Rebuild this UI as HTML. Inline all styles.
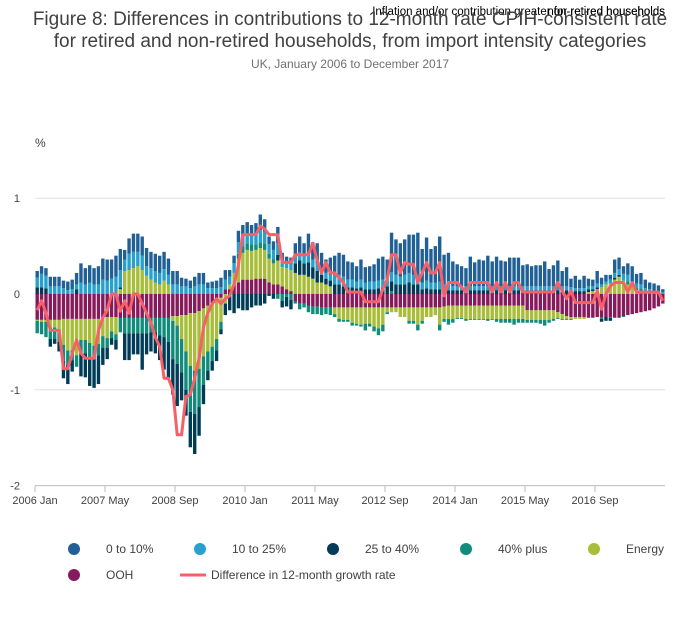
<!DOCTYPE html>
<html><head><meta charset="utf-8">
<style>
body{margin:0;background:#fff;width:700px;height:635px;overflow:hidden;font-family:"Liberation Sans",sans-serif}
svg text{font-family:"Liberation Sans",sans-serif}
</style></head>
<body>
<svg id="chart" width="700" height="635" xmlns="http://www.w3.org/2000/svg">
<text x="665" y="15" text-anchor="end" font-size="11.5" fill="#000">Inflation and/or contribution greater for retired households</text>
<text x="665" y="15" text-anchor="end" font-size="11.5" fill="#000">non-retired households</text>
<text x="350" y="25" text-anchor="middle" font-size="19" fill="#414042">Figure 8: Differences in contributions to 12-month rate CPIH-consistent rate</text>
<text x="350" y="47" text-anchor="middle" font-size="19" fill="#414042">for retired and non-retired households, from import intensity categories</text>
<text x="350" y="68" text-anchor="middle" font-size="12" fill="#707071">UK, January 2006 to December 2017</text>
<text x="35" y="147" font-size="12" fill="#414042">%</text>
<g id="grid"></g><g id="bars"></g><g id="line"></g><g id="xaxis"></g>
<g font-size="12" fill="#414042">
<circle cx="74" cy="549" r="6" fill="#206095"/><text x="106" y="553">0 to 10%</text>
<circle cx="200" cy="549" r="6" fill="#27a0cc"/><text x="232" y="553">10 to 25%</text>
<circle cx="333" cy="549" r="6" fill="#003c57"/><text x="365" y="553">25 to 40%</text>
<circle cx="466" cy="549" r="6" fill="#118c7b"/><text x="498" y="553">40% plus</text>
<circle cx="594" cy="549" r="6" fill="#a8bd3a"/><text x="626" y="553">Energy</text>
<circle cx="74" cy="575" r="6" fill="#871a5b"/><text x="106" y="579">OOH</text>
<line x1="180" y1="575" x2="206" y2="575" stroke="#f66068" stroke-width="3"/><text x="211" y="579">Difference in 12-month growth rate</text>
</g>
</svg>
<script>
const db=[.07,.08,.08,.10,.10,.10,.08,.09,.10,.12,.20,.17,.18,.17,.19,.22,.22,.20,.22,.22,.10,.16,.19,.19,.20,.19,.17,.18,.18,.18,.17,.14,.14,.09,.08,.08,.10,.12,.12,.06,.07,.08,.10,.10,.07,.08,.12,.11,.12,.10,.11,.16,.13,.08,.09,.17,.10,.07,.07,.13,.17,.13,.20,.18,.21,.17,.14,.18,.20,.23,.23,.19,.18,.16,.21,.16,.16,.18,.23,.24,.20,.41,.37,.35,.37,.40,.42,.44,.35,.45,.35,.38,.47,.31,.33,.26,.23,.21,.19,.31,.25,.28,.27,.32,.26,.31,.27,.26,.30,.30,.30,.22,.23,.21,.22,.22,.26,.18,.22,.27,.16,.20,.09,.13,.09,.13,.08,.07,.13,.07,.07,.05,.14,.12,.08,.12,.16,.10,.12,.09,.07,.08,.07,.03];
const lb=[.10,.14,.13,.08,.08,.08,.06,.04,.05,.05,.12,.10,.12,.10,.10,.15,.14,.16,.18,.18,.12,.17,.17,.15,.15,.10,.12,.12,.12,.12,.10,.10,.10,.08,.08,.06,.08,.10,.10,.06,.06,.06,.07,.10,.08,.10,.12,.11,.10,.10,.11,.13,.12,.10,.10,.12,.05,.05,.06,.08,.08,.08,.10,.08,.08,.06,.06,.06,.10,.10,.10,.08,.08,.07,.08,.07,.08,.08,.08,.08,.08,.10,.10,.08,.10,.10,.10,.10,.07,.08,.07,.07,.08,.06,.06,.04,.04,.04,.04,.04,.04,.04,.04,.04,.04,.04,.04,.04,.04,.04,.04,.04,.04,.04,.04,.04,.04,.04,.04,.04,.04,.04,.03,.03,.03,.03,.03,.03,.04,.03,.03,.04,.05,.06,.07,.07,.05,.04,.04,.03,.03,.03,.02,.02];
const nv=[.07,.07,.06,-.08,-.05,-.10,-.18,-.20,-.12,.05,-.24,-.25,-.30,-.30,-.30,-.18,-.12,-.07,-.10,.02,-.28,-.28,-.22,-.22,-.38,-.22,-.20,-.22,-.26,-.34,-.38,-.37,-.44,-.29,-.27,-.37,-.42,-.30,-.20,-.10,-.10,-.11,-.05,-.12,-.17,-.20,-.15,-.17,-.17,-.14,-.12,-.12,-.10,-.02,-.05,.06,-.07,-.10,-.10,.10,.15,.12,.15,.12,.12,.08,.06,.06,.10,.10,.08,.07,.07,.06,.07,.05,.05,.05,.06,.07,.08,.10,.10,.10,.10,.12,.10,.10,.05,.06,.05,.05,.05,.04,.04,.04,.04,.04,.04,.04,.04,.04,.04,.04,.04,.04,.04,.04,.04,.04,.04,.04,.04,.04,.04,.04,.04,.04,.04,.04,.04,.04,.04,.03,.03,.03,.03,.02,.02,-.03,-.04,-.03,.02,.02,0,0,0,0,0,0,0,0,0,0,-.04];
const tl=[-.13,-.13,-.16,-.12,-.12,-.13,-.17,-.15,-.10,-.12,-.14,-.14,-.15,-.14,-.12,-.12,-.10,-.07,-.06,-.15,-.16,-.16,-.16,-.16,-.16,-.16,-.15,-.15,-.18,-.20,-.25,-.40,-.40,-.35,-.40,-.48,-.45,-.40,-.30,-.20,-.15,-.12,-.08,0,0,0,.05,.07,.07,.07,.06,.06,.07,.05,.04,-.05,-.07,-.03,-.06,-.02,-.06,-.04,-.07,-.08,-.08,-.08,-.07,-.08,-.03,-.03,-.02,-.02,-.03,-.02,-.02,-.07,-.03,-.05,-.07,-.07,-.02,.03,0,0,0,-.03,-.03,-.06,-.03,0,0,0,-.06,-.03,-.06,-.04,-.01,-.01,-.02,-.01,-.01,-.01,-.01,-.02,-.01,-.03,-.04,-.04,-.04,-.06,-.04,-.04,-.03,-.03,-.03,-.04,-.06,-.03,-.02,-.01,-.01,-.01,-.01,0,0,0,-.01,-.01,0,-.02,0,-.01,-.01,-.01,-.01,.03,0,.03,.06,.03,.02,0,0,0];
const en=[-.01,-.02,-.02,-.08,-.08,-.10,-.27,-.33,-.33,-.38,-.22,-.22,-.25,-.28,-.26,-.20,-.22,-.15,-.18,.05,.24,.25,.27,.29,.25,.19,.15,.12,.10,.14,.10,-.05,-.10,-.25,-.38,-.55,-.60,-.60,-.50,-.48,-.45,-.40,-.25,-.10,.05,.12,.25,.28,.31,.30,.30,.32,.30,.25,.22,.25,.20,.22,.22,.22,.20,.20,.18,.16,.12,.12,.10,.08,-.07,-.12,-.13,-.13,-.16,-.17,-.18,-.17,-.17,-.20,-.22,-.18,-.05,-.05,-.05,-.10,-.10,-.14,-.14,-.18,-.14,-.10,-.10,-.08,-.18,-.13,-.14,-.14,-.13,-.13,-.14,-.14,-.14,-.14,-.14,-.14,-.14,-.14,-.14,-.14,-.14,-.14,-.14,-.14,-.10,-.10,-.10,-.10,-.10,-.10,-.09,-.06,-.05,-.03,-.02,-.02,-.02,-.02,.02,.03,.05,.07,.10,.11,.15,.18,.14,.10,.08,.04,0,0,0,0,0,0];
const oo=[-.27,-.27,-.27,-.27,-.27,-.27,-.26,-.26,-.26,-.26,-.26,-.26,-.26,-.26,-.26,-.24,-.24,-.24,-.24,-.25,-.25,-.25,-.25,-.25,-.25,-.25,-.25,-.25,-.25,-.25,-.25,-.23,-.23,-.22,-.22,-.20,-.20,-.18,-.15,-.12,-.10,-.07,-.04,.05,.05,.10,.12,.15,.15,.15,.16,.16,.16,.12,.10,.10,.08,.05,.03,-.08,-.10,-.10,-.12,-.13,-.13,-.14,-.14,-.14,-.14,-.14,-.14,-.14,-.14,-.14,-.14,-.14,-.14,-.14,-.14,-.14,-.14,-.14,-.14,-.14,-.14,-.14,-.14,-.14,-.14,-.14,-.14,-.14,-.14,-.13,-.12,-.12,-.12,-.12,-.12,-.12,-.12,-.12,-.12,-.12,-.12,-.12,-.12,-.12,-.12,-.12,-.12,-.12,-.17,-.17,-.17,-.17,-.17,-.17,-.17,-.19,-.21,-.23,-.24,-.24,-.24,-.24,-.24,-.24,-.24,-.24,-.24,-.24,-.24,-.24,-.23,-.22,-.21,-.20,-.19,-.18,-.17,-.15,-.13,-.10];
const diff=[-.17,-.07,-.2,-.38,-.38,-.38,-.78,-.78,-.62,-.48,-.62,-.67,-.67,-.67,-.38,-.25,-.17,0,0,-.18,-.07,-.2,0,0,-.1,-.2,-.3,-.45,-.55,-.88,-.88,-1.0,-1.47,-1.47,-1.07,-1.05,-.88,-.67,-.35,-.2,-.1,-.05,-.1,-.05,-.02,.1,.3,.62,.62,.62,.62,.71,.68,.62,.62,.62,.33,.33,.33,.41,.41,.41,.41,.53,.35,.22,.33,.22,.22,.17,.12,.02,.02,.02,.02,-.08,-.08,-.08,-.08,.05,.15,.41,.41,.22,.33,.31,.31,.12,.22,.33,.22,.22,.33,-.02,.12,.12,.12,.07,.02,.12,.12,.12,.12,.12,.02,.12,.02,.12,.02,.12,.12,.02,.02,.02,.02,.02,.02,.02,.02,.12,.03,-.05,.03,-.09,-.09,-.09,-.09,-.09,.03,-.16,0,.08,.12,.12,.12,.02,.12,.02,.02,.02,.02,.02,.02,-.07];
const yTicks=[1,0,-1,-2];
const xTickMonths=[0,16,32,48,64,80,96,112,128];
const xTickLabels=["2006 Jan","2007 May","2008 Sep","2010 Jan","2011 May","2012 Sep","2014 Jan","2015 May","2016 Sep"];
const seriesNames=["ooh","energy","40-plus","25-to-40","10-to-25","0-to-10"];
const seriesColors=["#871a5b","#a8bd3a","#118c7b","#003c57","#27a0cc","#206095"];
const series=[oo,en,tl,nv,lb,db];

const NS="http://www.w3.org/2000/svg";
const X0=35,PITCH=4.375,Y0=294,YS=95.8;
const xs=i=>X0+i*PITCH;
const ys=v=>Y0-v*YS;
function mk(tag,attrs,parent){const e=document.createElementNS(NS,tag);for(const k in attrs)e.setAttribute(k,attrs[k]);parent.appendChild(e);return e;}
const grid=document.getElementById('grid');
yTicks.forEach(t=>{
  const l=mk('line',{x1:35,x2:665,y1:ys(t),y2:ys(t),stroke:t===-2?'#bbb':'#e0e0e0','stroke-width':1},grid);
  
  
  const tx=mk('text',{x:20,y:ys(t)+4,'text-anchor':'end','font-size':11,fill:'#414042'},grid);
  tx.textContent=String(t);
  
  
});
const xa=document.getElementById('xaxis');
xTickMonths.forEach((m,k)=>{
  const tk=mk('line',{x1:xs(m),x2:xs(m),y1:486,y2:492,stroke:'#bbb'},xa);
  
  
  const tx=mk('text',{x:xs(m),y:504,'text-anchor':'middle','font-size':11,fill:'#414042'},xa);
  tx.textContent=xTickLabels[k];
  
  
});
const bars=document.getElementById('bars');
for(let i=0;i<db.length;i++){
  let pos=0,neg=0;
  series.forEach((s,si)=>{
    const v=s[i];if(!v)return;
    let y1,y2;
    if(v>0){y1=ys(pos+v);y2=ys(pos);pos+=v;}else{y1=ys(neg);y2=ys(neg+v);neg+=v;}
    const r=mk('rect',{x:xs(i)+0.5,y:y1,width:3.4,height:Math.max(0,y2-y1),fill:seriesColors[si]},bars);
    
    
  });
}
const pts=diff.map((v,i)=>(xs(i)+2.2).toFixed(1)+','+ys(v).toFixed(1)).join(' ');
const pl=mk('polyline',{points:pts,fill:'none',stroke:'#f66068','stroke-width':3,'stroke-linejoin':'round'},document.getElementById('line'));


</script>
</body></html>
